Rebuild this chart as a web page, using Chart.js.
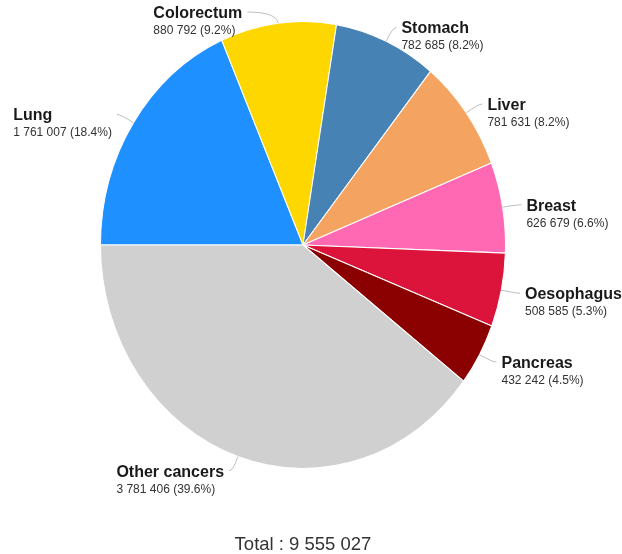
<!DOCTYPE html>
<html>
<head>
<meta charset="utf-8">
<script src="https://cdn.jsdelivr.net/npm/chart.js@4/dist/chart.umd.min.js"></script>
<style>
  html, body { margin: 0; padding: 0; background: #fff; }
  canvas { display: block; }
</style>
</head>
<body>
<canvas id="cancerPie" width="622" height="554"></canvas>
<script>
const sites = ['Lung', 'Colorectum', 'Stomach', 'Liver', 'Breast', 'Oesophagus', 'Pancreas', 'Other cancers'];
const cases = [1761007, 880792, 782685, 781631, 626679, 508585, 432242, 3781406];
const sliceColors = ['#1e90ff', '#ffd700', '#4682b4', '#f4a460', '#ff69b4', '#dc143c', '#8b0000', '#d0d0d0'];

const totalCases = cases.reduce((a, b) => a + b, 0);
// pie is drawn slightly taller than wide
const STRETCH_Y = 1.1036;

function formatNumber(n) {
  return String(n).replace(/\B(?=(\d{3})+(?!\d))/g, ' ');
}

function labelLines(i) {
  const pct = (cases[i] / totalCases * 100).toFixed(1);
  return [sites[i], `${formatNumber(cases[i])} (${pct}%)`];
}

const stretchPie = {
  id: 'stretchPie',
  beforeDatasetsDraw(chart) {
    const arc = chart.getDatasetMeta(0).data[0];
    const ctx = chart.ctx;
    ctx.save();
    ctx.translate(0, arc.y);
    ctx.scale(1, STRETCH_Y);
    ctx.translate(0, -arc.y);
  },
  afterDatasetsDraw(chart) {
    chart.ctx.restore();
  }
};

// connectors + two-line labels outside each slice
const outsideLabels = {
  id: 'outsideLabels',
  afterDraw(chart) {
    const ctx = chart.ctx;
    const arcs = chart.getDatasetMeta(0).data;
    const nameFont = 'bold 16px "Liberation Sans", Arial, sans-serif';
    const valueFont = '12px "Liberation Sans", Arial, sans-serif';

    ctx.save();
    arcs.forEach((arc, i) => {
      const { x, y, startAngle, endAngle, outerRadius } = arc.getProps(['x', 'y', 'startAngle', 'endAngle', 'outerRadius'], true);
      const mid = (startAngle + endAngle) / 2;
      const cos = Math.cos(mid);
      const sin = Math.sin(mid);
      const ex = x + cos * outerRadius;
      const ey = y + sin * outerRadius * STRETCH_Y;
      const px = ex + cos * 15;
      let py = ey + sin * 15;
      const side = cos >= 0 ? 1 : -1;
      let hlen = 4;
      if (py < 12) {
        // too close to the top edge: flatten and run the line sideways
        py = 12;
        hlen = 29;
      }
      const qx = px + side * hlen;
      const qy = py;

      ctx.strokeStyle = '#bdbdbd';
      ctx.lineWidth = 1;
      ctx.beginPath();
      ctx.moveTo(ex, ey);
      ctx.quadraticCurveTo(px, py, qx, qy);
      ctx.stroke();

      const [name, value] = labelLines(i);
      ctx.font = nameFont;
      const wName = ctx.measureText(name).width;
      ctx.font = valueFont;
      const wValue = ctx.measureText(value).width;
      const blockW = Math.max(wName, wValue);
      const tx = side > 0 ? qx + 5 : qx - 5 - blockW;

      ctx.textAlign = 'left';
      ctx.textBaseline = 'alphabetic';
      ctx.fillStyle = '#1a1a1a';
      ctx.font = nameFont;
      ctx.fillText(name, tx, qy + 5.8);
      ctx.fillStyle = '#333';
      ctx.font = valueFont;
      ctx.fillText(value, tx, qy + 21.8);
    });

    ctx.fillStyle = '#333';
    ctx.font = '18.5px "Liberation Sans", Arial, sans-serif';
    ctx.textAlign = 'center';
    ctx.textBaseline = 'alphabetic';
    ctx.fillText(`Total : ${formatNumber(totalCases)}`, 303, 550);
    ctx.restore();
  }
};

new Chart(document.getElementById('cancerPie'), {
  type: 'pie',
  data: {
    labels: sites,
    datasets: [{
      data: cases,
      backgroundColor: sliceColors,
      borderColor: '#ffffff',
      borderWidth: 1
    }]
  },
  options: {
    responsive: false,
    animation: false,
    rotation: 270,
    layout: {
      padding: { top: 42, right: 16, bottom: 106, left: 0 }
    },
    plugins: {
      legend: { display: false },
      tooltip: { enabled: false }
    }
  },
  plugins: [stretchPie, outsideLabels]
});
</script>
</body>
</html>
